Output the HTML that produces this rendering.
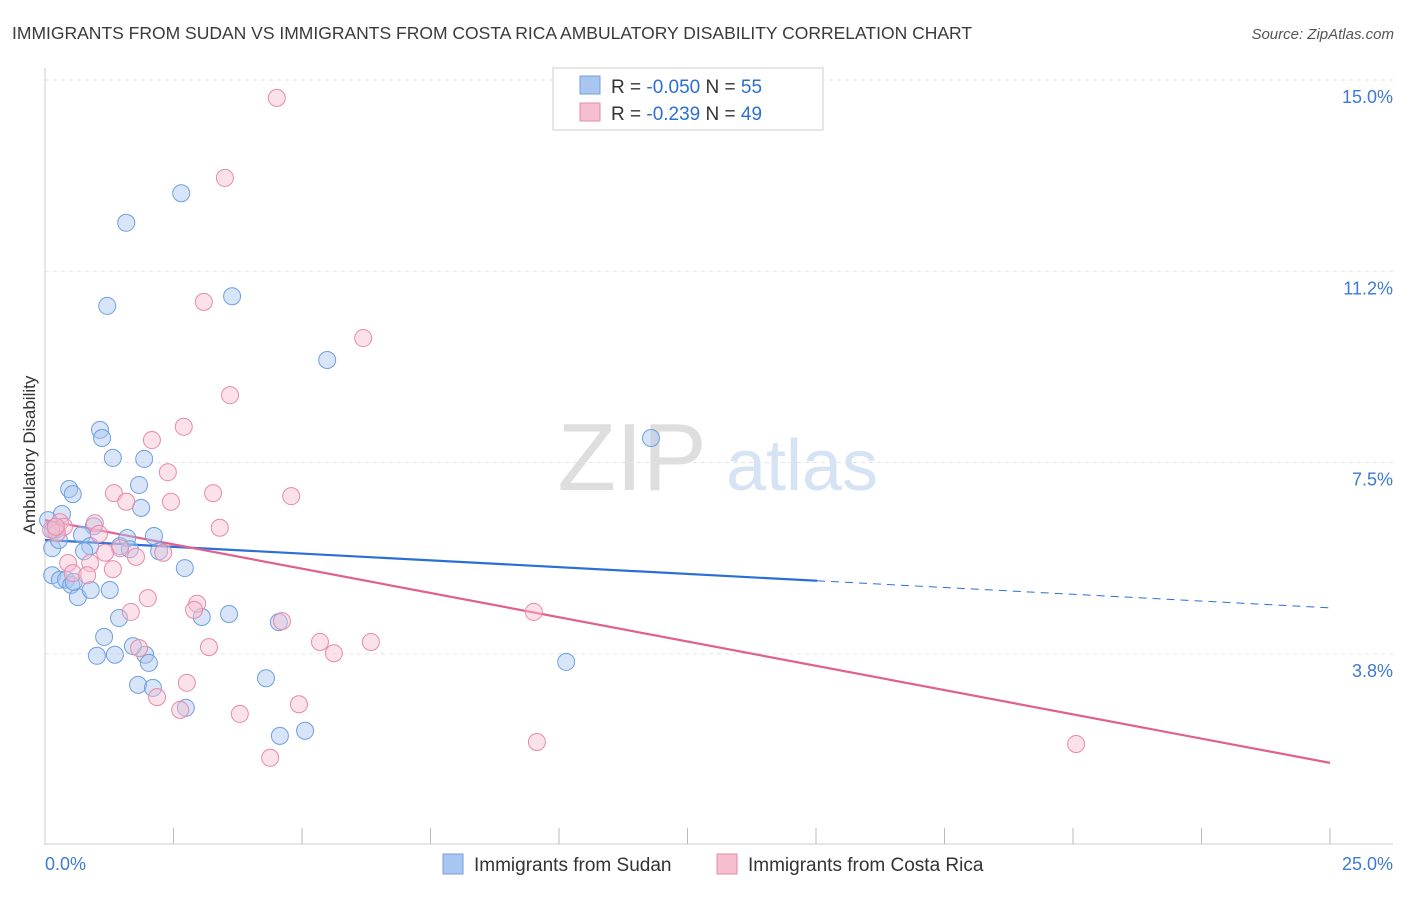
<!DOCTYPE html>
<html><head><meta charset="utf-8"><style>
body{margin:0;background:#fff;font-family:"Liberation Sans",sans-serif}
svg text{font-family:"Liberation Sans",sans-serif}
</style></head><body>
<svg id="chart" width="1406" height="892" viewBox="0 0 1406 892" xmlns="http://www.w3.org/2000/svg">
<text x="12" y="39" font-size="17.5" fill="#3a3a3a">IMMIGRANTS FROM SUDAN VS IMMIGRANTS FROM COSTA RICA AMBULATORY DISABILITY CORRELATION CHART</text>
<text x="1394" y="39" font-size="15" fill="#555" text-anchor="end" font-style="italic">Source: ZipAtlas.com</text>
<g>
<text x="632" y="490" font-size="96" fill="#dedede" text-anchor="middle" font-family="Liberation Serif">ZIP</text>
<text x="802" y="490" font-size="72" fill="#d6e3f5" text-anchor="middle">atlas</text>
</g>
<g id="grid"></g>
<g id="axes"></g>
<g id="lines"></g>
<g id="pts"></g>
<text transform="translate(35,455) rotate(-90)" font-size="17" fill="#333" text-anchor="middle">Ambulatory Disability</text>
<g>
<rect x="553" y="68" width="270" height="62" fill="#fff" stroke="#ccc"/>
<rect x="580" y="76" width="20" height="18" fill="#a9c6f0" stroke="#6f9fe0"/>
<rect x="580" y="103" width="20" height="18" fill="#f6bfd0" stroke="#e88aa8"/>
<text x="611" y="93" font-size="19" fill="#333">R = <tspan fill="#2b6fd6">-0.050</tspan>   N = <tspan fill="#2b6fd6">55</tspan></text>
<text x="611" y="120" font-size="19" fill="#333">R =  <tspan fill="#2b6fd6">-0.239</tspan>   N = <tspan fill="#2b6fd6">49</tspan></text>
</g>
<g>
<rect x="443" y="854" width="20" height="20" fill="#a9c6f0" stroke="#6f9fe0"/>
<text x="474" y="871" font-size="19" fill="#333">Immigrants from Sudan</text>
<rect x="717" y="854" width="20" height="20" fill="#f6bfd0" stroke="#e88aa8"/>
<text x="748" y="871" font-size="19" fill="#333">Immigrants from Costa Rica</text>
</g>
</svg>
<script>
const yTicks=[3.75,7.5,11.25,15];
const yTickLabels=["3.8%","7.5%","11.2%","15.0%"];
const xTickLabels=["0.0%","25.0%"];
const sudanX=[2.65,1.58,1.21,3.64,5.49,1.07,1.11,11.79,1.32,1.93,0.47,0.54,1.83,1.87,0.33,0.06,0.95,0.72,0.21,0.14,0.88,0.76,1.46,1.60,1.65,2.12,2.22,2.72,0.14,0.29,0.41,0.51,0.64,0.89,1.26,1.44,3.05,3.58,4.55,1.15,1.01,1.36,1.95,2.02,10.14,1.71,1.81,2.10,4.30,2.74,4.57,5.06,0.16,0.27,0.56];
const sudanY=[12.78,12.20,10.57,10.76,9.51,8.14,7.98,7.98,7.59,7.57,6.98,6.88,7.06,6.61,6.49,6.37,6.25,6.08,6.18,5.82,5.86,5.76,5.86,6.02,5.80,6.06,5.76,5.43,5.29,5.20,5.20,5.10,4.86,5.00,5.00,4.45,4.47,4.53,4.37,4.08,3.71,3.73,3.73,3.57,3.59,3.90,3.14,3.08,3.27,2.69,2.14,2.24,6.18,5.98,5.16];
const costaX=[4.51,3.50,3.09,6.19,3.60,2.70,2.08,2.39,1.34,3.27,4.79,2.45,1.58,0.29,0.97,0.37,0.23,0.12,1.05,3.40,1.46,1.17,1.77,2.30,0.45,0.88,1.32,0.54,2.00,2.96,2.90,1.67,4.61,9.51,5.35,6.34,3.19,5.62,1.83,2.76,2.18,4.94,2.63,3.79,9.57,20.06,4.38,0.21,0.82];
const costaY=[14.65,13.08,10.65,9.94,8.82,8.20,7.94,7.31,6.90,6.90,6.84,6.73,6.73,6.33,6.31,6.24,6.12,6.18,6.10,6.22,5.82,5.73,5.65,5.73,5.53,5.53,5.41,5.33,4.84,4.73,4.61,4.57,4.39,4.57,3.98,3.98,3.88,3.76,3.86,3.18,2.90,2.76,2.65,2.57,2.02,1.98,1.71,6.24,5.29];
const sudanTrend=[5.98,4.65];
const costaTrend=[6.37,1.61];
const sudanSolidEnd=15.02;

const X=v=>45+v*51.4, Y=v=>80+(15-v)*51.0;
const NS="http://www.w3.org/2000/svg";
function mk(tag,attrs,parent){const e=document.createElementNS(NS,tag);for(const k in attrs)e.setAttribute(k,attrs[k]);document.getElementById(parent).appendChild(e);return e;}
yTicks.forEach((t,i)=>{
 const g=mk('line',{x1:45,x2:1393,y1:Y(t),y2:Y(t),stroke:'#e3e3e3','stroke-dasharray':'4,4'},'grid');
 
 
 const l=mk('text',{x:1393,y:Y(t)+23,'font-size':18,fill:'#3d7ad6','text-anchor':'end'},'axes');
 l.textContent=yTickLabels[i];
 
 
});
const ax=mk('line',{x1:45,x2:45,y1:68,y2:845,stroke:'#ccc'},'axes');


const bx=mk('line',{x1:45,x2:1393,y1:844,y2:844,stroke:'#ccc'},'axes');


for(let i=1;i<=10;i++){const t=mk('line',{x1:X(i*2.5),x2:X(i*2.5),y1:828,y2:844,stroke:'#bbb'},'axes');
 
 }
[[0,'start',45],[25,'end',1393]].forEach((a,i)=>{const l=mk('text',{x:a[2],y:870,'font-size':18,fill:'#3d7ad6','text-anchor':a[1]},'axes');l.textContent=xTickLabels[i];
 
 });
function pts(xs,ys,fill,stroke,name){xs.forEach((x,i)=>{const c=mk('circle',{cx:X(x),cy:Y(ys[i]),r:8.5,fill:fill,'fill-opacity':0.45,stroke:stroke,'stroke-width':1},'pts');
 
 });}
pts(sudanX,sudanY,'#a9c6f0','#6f9fe0','sudan-point');
pts(costaX,costaY,'#f6bfd0','#e88aa8','costa-rica-point');
const sl=(v)=>sudanTrend[0]+(sudanTrend[1]-sudanTrend[0])*v/25;
const l1=mk('line',{x1:X(0),y1:Y(sudanTrend[0]),x2:X(sudanSolidEnd),y2:Y(sl(sudanSolidEnd)),stroke:'#2b6fd6','stroke-width':2.2},'lines');


const l2=mk('line',{x1:X(sudanSolidEnd),y1:Y(sl(sudanSolidEnd)),x2:X(25),y2:Y(sudanTrend[1]),stroke:'#2b6fd6','stroke-width':1,'stroke-dasharray':'8,6'},'lines');


const l3=mk('line',{x1:X(0),y1:Y(costaTrend[0]),x2:X(25),y2:Y(costaTrend[1]),stroke:'#e0608e','stroke-width':2.2},'lines');


</script>
</body></html>
